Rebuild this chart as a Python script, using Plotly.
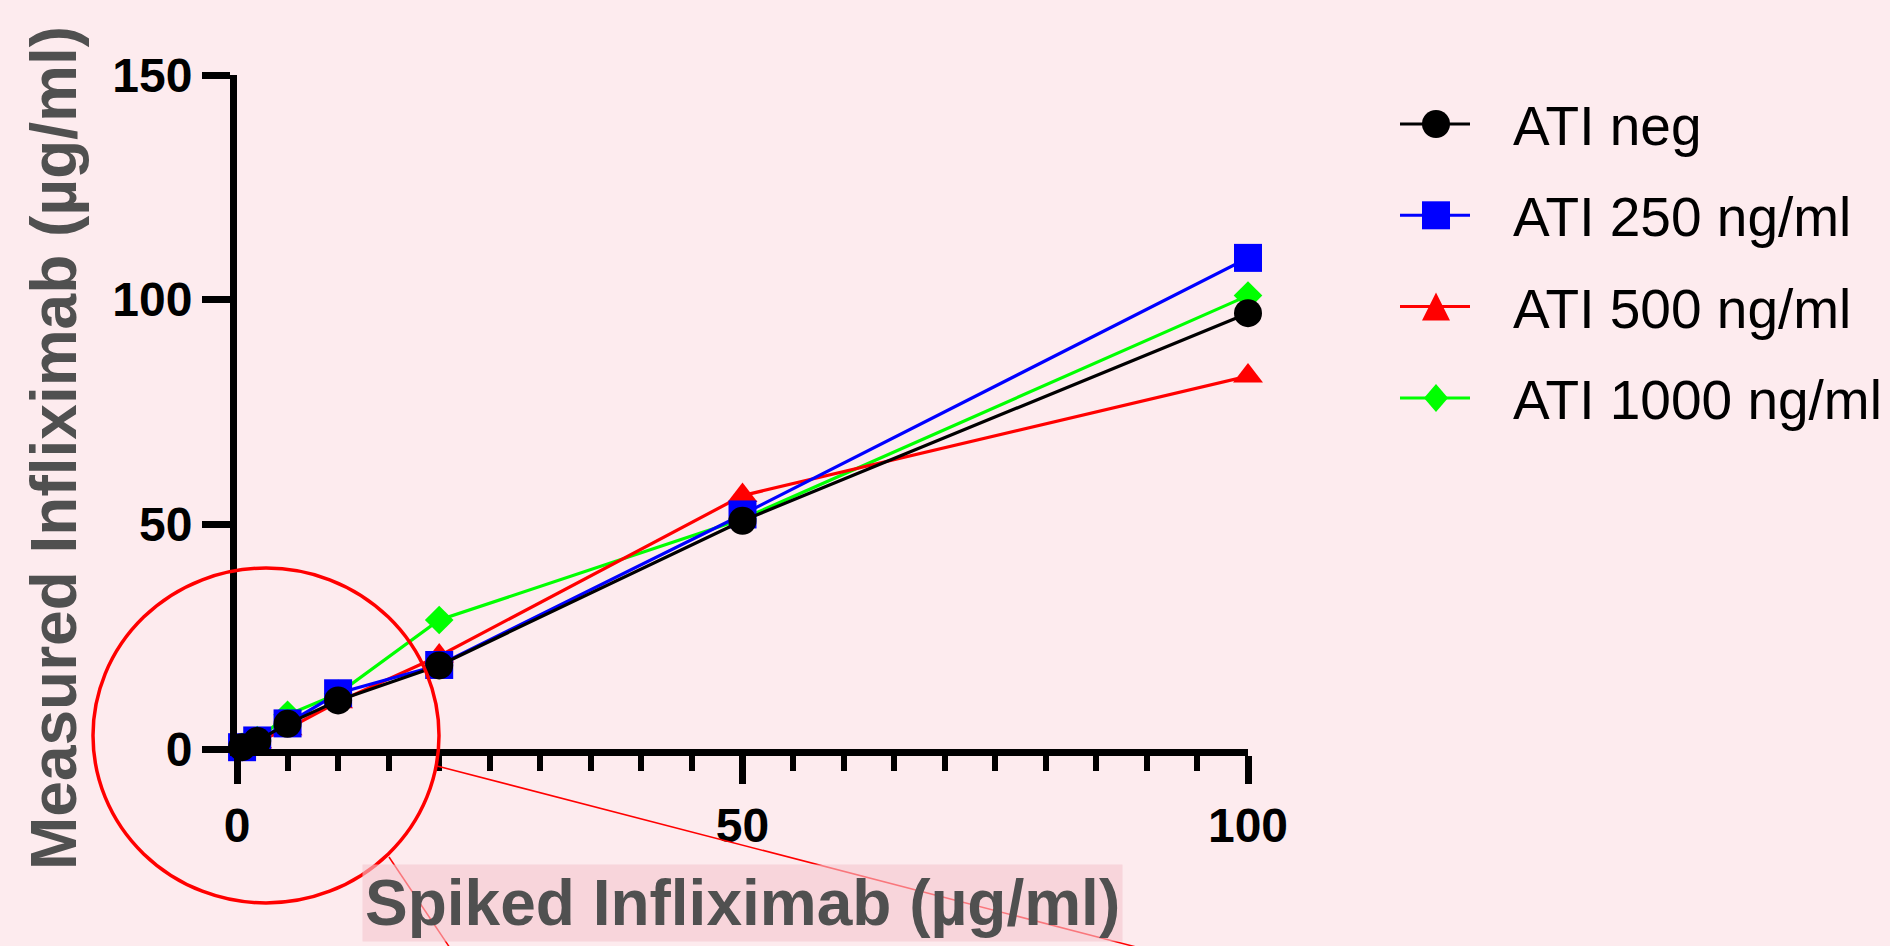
import plotly.graph_objects as go

# ---------------- data ----------------
x_spiked = [0.5, 2, 5, 10, 20, 50, 100]
ati_neg = [0.4, 1.8, 5.6, 10.8, 18.6, 50.8, 97.0]
ati_250 = [0.4, 1.9, 5.7, 12.4, 18.7, 52.2, 109.3]
ati_500 = [-0.2, 1.6, 4.5, 10.5, 20.7, 56.4, 83.0]
ati_1000 = [0.5, 2.0, 7.6, 12.3, 28.7, 51.2, 100.9]

series_names = ["ATI neg", "ATI 250 ng/ml", "ATI 500 ng/ml", "ATI 1000 ng/ml"]
series_values = [ati_neg, ati_250, ati_500, ati_1000]
series_colors = ["#000000", "#0000ff", "#ff0000", "#00ff00"]
series_symbols = ["circle", "square", "triangle-up", "diamond"]
series_sizes = [28, 28, 26, 22]

x_ticks = [0, 50, 100]
y_ticks = [0, 50, 100, 150]
x_title = "Spiked Infliximab (µg/ml)"
y_title = "Measured Infliximab (µg/ml)"

# ---------------- layout geometry ----------------
W, H = 1890, 946
L, R, T, B = 237, 642, 75, 197
PW, PH = W - L - R, H - T - B
BG = "#fdebee"


def px(x):
    return (x - L) / PW


def py(y):
    return (H - B - y) / PH


fig = go.Figure()

# draw order: green, red, blue, black (black on top)
for i in [3, 2, 1, 0]:
    fig.add_trace(go.Scatter(
        x=x_spiked, y=series_values[i], name=series_names[i],
        mode="lines+markers",
        line=dict(color=series_colors[i], width=3.2),
        marker=dict(symbol=series_symbols[i], size=series_sizes[i],
                    color=series_colors[i], line=dict(width=0)),
        cliponaxis=False, showlegend=False,
    ))

shapes = []
annotations = []

# custom legend
for i, name in enumerate(series_names):
    yc = 124 + i * 91.3
    c = series_colors[i]
    shapes.append(dict(type="line", xref="paper", yref="paper",
                       x0=px(1400), x1=px(1470), y0=py(yc), y1=py(yc),
                       line=dict(color=c, width=3)))
    s = 14
    cx = 1436
    if series_symbols[i] == "circle":
        shapes.append(dict(type="circle", xref="paper", yref="paper",
                           x0=px(cx - s), x1=px(cx + s), y0=py(yc + s), y1=py(yc - s),
                           fillcolor=c, line=dict(width=0)))
    elif series_symbols[i] == "square":
        shapes.append(dict(type="rect", xref="paper", yref="paper",
                           x0=px(cx - s), x1=px(cx + s), y0=py(yc + s), y1=py(yc - s),
                           fillcolor=c, line=dict(width=0)))
    elif series_symbols[i] == "triangle-up":
        path = (f"M{px(cx - s)},{py(yc + s)} L{px(cx + s)},{py(yc + s)} "
                f"L{px(cx)},{py(yc - s)} Z")
        shapes.append(dict(type="path", xref="paper", yref="paper", path=path,
                           fillcolor=c, line=dict(width=0)))
    else:
        path = (f"M{px(cx)},{py(yc - s)} L{px(cx + 12)},{py(yc)} "
                f"L{px(cx)},{py(yc + s)} L{px(cx - 12)},{py(yc)} Z")
        shapes.append(dict(type="path", xref="paper", yref="paper", path=path,
                           fillcolor=c, line=dict(width=0)))
    annotations.append(dict(text=name, xref="paper", yref="paper",
                            x=px(1511), y=py(yc + 2), xanchor="left", yanchor="middle",
                            showarrow=False,
                            font=dict(family="Liberation Sans, Arial", size=55, color="#000000")))

# decorative callout circle and lines
shapes.append(dict(type="circle", xref="paper", yref="paper",
                   x0=px(93), x1=px(439), y0=py(903), y1=py(568),
                   line=dict(color="#ff0000", width=3.5)))
shapes.append(dict(type="line", xref="paper", yref="paper",
                   x0=px(437), y0=py(766), x1=px(1140), y1=py(948),
                   line=dict(color="#ff0000", width=1.5)))
shapes.append(dict(type="line", xref="paper", yref="paper",
                   x0=px(389), y0=py(857), x1=px(450), y1=py(948),
                   line=dict(color="#ff0000", width=1.5)))

# axis titles
annotations.append(dict(text=x_title, xref="paper", yref="paper",
                        x=px(742), y=py(903), xanchor="center", yanchor="middle",
                        showarrow=False, bgcolor="rgba(245,198,206,0.6)", borderpad=2,
                        font=dict(family="Liberation Sans, Arial", size=64,
                                  color="#505050", weight="bold")))
annotations.append(dict(text=y_title, xref="paper", yref="paper",
                        x=px(54), y=py(448), xanchor="center", yanchor="middle",
                        textangle=-90, showarrow=False,
                        font=dict(family="Liberation Sans, Arial", size=64,
                                  color="#505050", weight="bold")))

tickfont = dict(family="Liberation Sans, Arial", size=48, color="#000000", weight="bold")

fig.update_layout(
    width=W, height=H,
    margin=dict(l=L, r=R, t=T, b=B, pad=0),
    paper_bgcolor=BG, plot_bgcolor=BG,
    showlegend=False,
    shapes=shapes, annotations=annotations,
    xaxis=dict(range=[0, 100], tickmode="array", tickvals=x_ticks,
               ticks="outside", ticklen=28, tickwidth=7, tickcolor="#000000",
               showline=True, linewidth=7, linecolor="#000000",
               showgrid=False, zeroline=False, tickfont=tickfont,
               minor=dict(dtick=5, tick0=0, ticks="outside", ticklen=15,
                          tickwidth=6, tickcolor="#000000", showgrid=False)),
    yaxis=dict(range=[0, 150], tickmode="array", tickvals=y_ticks,
               ticks="outside", ticklen=28, tickwidth=7, tickcolor="#000000",
               showline=True, linewidth=7, linecolor="#000000",
               showgrid=False, zeroline=False, tickfont=tickfont),
)

fig.write_html("out.html")
